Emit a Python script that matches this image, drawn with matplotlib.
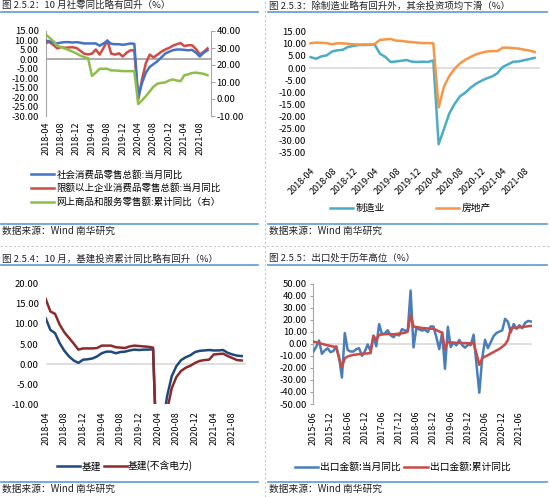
import matplotlib
matplotlib.use("Agg")
import matplotlib.pyplot as plt
from matplotlib.lines import Line2D

plt.rcParams['font.family'] = ['Noto Sans CJK SC', 'DejaVu Sans']

W, H = 550, 497

# ---- 图 2.5.2 社零 ----
p1_ticks = ["2018-04", "2018-08", "2018-12", "2019-04", "2019-08", "2019-12",
            "2020-04", "2020-08", "2020-12", "2021-04", "2021-08"]
p1_retail = [9.8, 9.6, 8.8, 8.4, 8.9, 9.1, 9.1, 8.9, 9.1, 8.8, 8.4, 8.4, 8.4, 8.4, 7.2,
             8.4, 9.8, 8.2, 8.0, 8.0, 7.7, 8.0, 8.4, 8.2, -20.0, -12.5, -7.0, -4.0, -2.5,
             -1.0, 1.0, 3.0, 4.0, 4.8, 5.2, 5.2, 5.0, 4.8, 5.0, 3.5, 1.5, 3.5, 4.8]
p1_above = [8.7, 9.1, 7.6, 5.8, 6.5, 6.1, 6.3, 6.4, 6.0, 4.5, 3.0, 2.6, 3.0, 5.2, 2.5,
            6.0, 10.0, 3.0, 2.5, 3.2, 1.5, 3.5, 4.8, 4.7, -21.5, -10.5, -2.0, 2.5, 1.0,
            2.5, 4.0, 5.2, 6.0, 7.2, 8.0, 8.6, 7.0, 7.5, 7.4, 5.5, 2.5, 4.0, 5.8]
p1_online = [38.0, 36.0, 34.0, 31.3, 30.5, 29.6, 28.8, 27.8, 26.8, 25.5, 24.6, 24.0, 13.6,
             15.5, 17.8, 17.8, 17.8, 16.8, 16.8, 16.6, 16.4, 16.4, 16.4, 16.4, -3.0, -0.8,
             1.7, 4.5, 7.3, 9.0, 9.5, 9.7, 10.9, 11.5, 10.9, 10.5, 14.0, 14.5, 15.3, 15.5,
             15.2, 14.8, 14.0]

# ---- 图 2.5.3 制造业 / 房地产 ----
p2_mfg = [4.5, 3.8, 4.8, 5.2, 6.8, 7.3, 7.5, 8.7, 9.1, 9.5, 9.5, 9.6, 9.7, 5.9, 4.6, 2.5,
          2.7, 3.0, 3.3, 2.6, 2.5, 2.6, 2.5, 3.1, -31.5, -25.2, -18.8, -14.8, -11.7, -10.2,
          -8.1, -6.5, -5.3, -4.3, -3.5, -2.2, 0.4, 1.5, 2.6, 2.7, 3.2, 3.7, 4.2]
p2_estate = [10.2, 10.5, 10.4, 10.3, 9.8, 10.2, 10.2, 10.0, 9.8, 9.7, 9.7, 9.7, 9.9, 11.6,
             11.8, 12.0, 11.3, 11.2, 10.9, 10.7, 10.5, 10.3, 10.3, 10.2, -16.3, -7.7, -3.3,
             -0.3, 1.9, 3.4, 4.6, 5.6, 6.3, 6.8, 7.0, 7.0, 8.4, 8.4, 8.2, 8.0, 7.6, 7.2, 6.6]

# ---- 图 2.5.4 基建 ----
p3_infra = [11.4, 8.5, 7.7, 5.2, 3.3, 1.9, 0.9, 0.3, 1.1, 1.2, 1.4, 1.9, 2.7, 3.1, 3.1, 2.7,
            3.0, 3.1, 3.4, 3.6, 3.5, 3.6, 3.6, 3.7, -30.0, -16.0, -8.0, -3.0, -0.5, 1.0,
            1.7, 2.2, 3.0, 3.3, 3.4, 3.5, 3.4, 3.4, 3.5, 2.8, 2.4, 2.1, 2.0]
p3_infra_ex = [16.2, 13.1, 12.5, 9.8, 7.9, 6.5, 5.1, 3.6, 3.9, 3.9, 3.9, 4.0, 4.6, 4.6, 4.6,
               4.2, 4.1, 4.0, 4.4, 4.6, 4.5, 4.4, 4.3, 4.1, -30.3, -19.7, -11.5, -6.0, -3.2,
               -1.7, -0.9, -0.4, 0.3, 0.8, 1.0, 1.1, 2.4, 2.5, 2.6, 2.0, 1.5, 1.0, 0.9]

# ---- 图 2.5.5 出口 ----
p4_ticks = ["2015-06", "2015-12", "2016-06", "2016-12", "2017-06", "2017-12", "2018-06",
            "2018-12", "2019-06", "2019-12", "2020-06", "2020-12", "2021-06"]
p4_month = [-6.4, -2.5, 2.8, -8.3, -5.5, -3.7, -6.9, -6.0, -2.0, -11.2, -28.0, 9.0,
            -5.0, -6.4, -6.4, -4.4, -3.6, -10.0, -6.4, -0.5, -6.1,
            6.5, -2.0, 16.4, 8.0, 8.7, 11.3, 7.2, 5.5, 8.1, 6.9, 12.3, 10.9,
            11.1, 44.3, -3.0, 12.9, 12.0, 11.0, 11.8, 9.8, 14.5, 14.4, 5.4, -4.4,
            9.1, -20.7, 14.2, -2.7, 1.1, -1.3, 3.3, -1.0, -3.2, -0.9, -1.1, 7.6,
            -17.0, -40.6, -12.0, 3.3, -3.6, 1.5, 6.5, 9.0, 10.2, 11.2, 20.8, 18.3,
            9.5, 16.5, 12.5, 15.5, 13.0, 17.5, 19.0, 18.6]
p4_cum = [1.9, 1.3, 0.9, 0.0, -0.6, -1.2, -1.7, -2.3, -2.8, -12.0, -19.5,
          -12.0, -10.5, -9.8, -9.2, -8.9, -8.6, -8.3, -8.1, -7.9, -7.7,
          6.8, 3.3, 7.5, 7.8, 8.0, 8.2, 8.0, 8.0, 8.2, 8.5, 8.8, 9.2,
          10.2, 24.6, 14.4, 14.0, 13.6, 13.2, 13.0, 12.8, 12.6, 12.5, 11.5, 10.2,
          9.5, -4.6, 1.7, 1.2, 1.0, 0.8, 0.8, 0.7, 0.6, 0.5, 0.4, 0.5,
          -8.0, -17.5, -12.0, -10.5, -9.5, -8.0, -6.8, -5.5, -4.2, -2.5, -0.5, 3.3,
          13.0, 13.5, 13.3, 13.8, 14.0, 14.3, 14.6, 14.9]

titles = ["图 2.5.2：10 月社零同比略有回升（%）",
          "图 2.5.3：除制造业略有回升外，其余投资项均下滑（%）",
          "图 2.5.4：10 月，基建投资累计同比略有回升（%）",
          "图 2.5.5：出口处于历年高位（%）"]
source = "数据来源：Wind 南华研究"

FS = 6.8
RULE = '#5B9BD5'

fig = plt.figure(figsize=(W / 100, H / 100), dpi=100)


def axes_px(x0, y0, x1, y1):
    return fig.add_axes([x0 / W, 1 - y1 / H, (x1 - x0) / W, (y1 - y0) / H])


def fx(x):
    return x / W


def fy(y):
    return 1 - y / H


def fmt(v):
    return f"{v:.2f}"


# frame: titles, blue rules, source, dashed separators
for (x0, x1, ytop, ybot), title in zip([(1, 258, 0, 245), (268, 547, 0, 245),
                                        (1, 258, 253, 497), (268, 547, 253, 497)], titles):
    fig.text(fx(x0 + 1), fy(ytop + 5.5), title, fontsize=FS, va='center', color='#222222')
    fig.add_artist(Line2D([fx(x0), fx(x1)], [fy(ytop + 12)] * 2, color=RULE, lw=1.2))
    fig.add_artist(Line2D([fx(x0), fx(x1)], [fy(ytop + 223.5 if ytop == 0 else ytop + 228.5)] * 2,
                          color=RULE, lw=1.2))
    fig.text(fx(x0 + 1), fy(ytop + 231 if ytop == 0 else ytop + 236), source,
             fontsize=FS + 0.2, va='center', color='#222222')
fig.add_artist(Line2D([fx(264.5)] * 2, [0, 1], color='#c8c8c8', lw=0.8, ls=(0, (2, 2))))
fig.add_artist(Line2D([0, 1], [fy(246)] * 2, color='#c8c8c8', lw=0.8, ls=(0, (2, 2))))


def style_x(ax, ticks, labels, rot, pad):
    ax.set_xticks(ticks)
    if rot == 90:
        ax.set_xticklabels(labels, rotation=90, fontsize=FS - 0.3)
    else:
        ax.set_xticklabels(labels, rotation=45, ha='right', va='top',
                           rotation_mode='anchor', fontsize=FS - 0.3)
    ax.tick_params(axis='x', length=0, pad=pad)


def style_y(ax, ticks, pad, length=0):
    ax.set_yticks(ticks)
    ax.set_yticklabels([fmt(t) for t in ticks], fontsize=FS)
    ax.tick_params(axis='y', length=length, pad=pad, color='#a0a0a0')


# ---- panel 1 ----
x1 = list(range(len(p1_retail)))
ax1 = axes_px(45.7, 31, 211, 116)
ax1.set_xlim(0, 42.9)
ax1.set_ylim(-30, 15)
for s in ['top', 'right', 'bottom']:
    ax1.spines[s].set_visible(False)
ax1.spines['left'].set_color('#a6a6a6')
ax1.axhline(0, color='#a6a6a6', lw=1.3, zorder=1)
l_a, = ax1.plot(x1, p1_above, color='#D04A46', lw=1.8, zorder=3)
l_r, = ax1.plot(x1, p1_retail, color='#4472C4', lw=1.8, zorder=4)
style_x(ax1, range(0, 41, 4), p1_ticks, 90, 4)
style_y(ax1, range(-30, 16, 5), 5)
ax1b = ax1.twinx()
ax1b.set_ylim(-10, 40)
for s in ['top', 'left', 'bottom']:
    ax1b.spines[s].set_visible(False)
ax1b.spines['right'].set_color('#a6a6a6')
l_o, = ax1b.plot(x1, p1_online, color='#8DBF48', lw=1.8)
ax1b.set_yticks(range(-10, 41, 10))
ax1b.set_yticklabels([fmt(t) for t in range(-10, 41, 10)], fontsize=FS)
ax1b.tick_params(axis='y', length=3, pad=1, color='#a6a6a6')
fig.legend([l_r, l_a, l_o],
           ["社会消费品零售总额:当月同比", "限额以上企业消费品零售总额:当月同比",
            "网上商品和服务零售额:累计同比（右）"],
           loc='upper left', bbox_to_anchor=(fx(31), fy(170)), frameon=False, fontsize=FS,
           handlelength=2.45, handletextpad=0.25, labelspacing=0.42, borderpad=0,
           borderaxespad=0)

# ---- panel 2 ----
x2 = list(range(len(p2_mfg)))
ax2 = axes_px(309, 31.7, 540, 152.7)
ax2.set_xlim(-0.3, 43.0)
ax2.set_ylim(-35, 15)
for s in ax2.spines.values():
    s.set_visible(False)
ax2.axhline(0, color='#d9d9d9', lw=1.2, zorder=1)
m2, = ax2.plot(x2, p2_mfg, color='#4BACC6', lw=1.8, zorder=3)
e2, = ax2.plot(x2, p2_estate, color='#F79646', lw=1.8, zorder=4)
style_x(ax2, range(0, 41, 4), p1_ticks, 45, 10)
style_y(ax2, range(-35, 16, 5), 2)
fig.legend([m2, e2], ["制造业", "房地产"], loc='center left',
           bbox_to_anchor=(fx(330), fy(208)), frameon=False, fontsize=FS + 0.2, ncol=2,
           handlelength=2.35, handletextpad=0.25, columnspacing=5.3, borderpad=0,
           borderaxespad=0)

# ---- panel 3 ----
x3 = list(range(len(p3_infra)))
ax3 = axes_px(45.7, 283.7, 245.5, 404.3)
ax3.set_xlim(0, 42.8)
ax3.set_ylim(-10, 20)
for s in ax3.spines.values():
    s.set_visible(False)
ax3.axhline(0, color='#d9d9d9', lw=1.2, zorder=1)
b3, = ax3.plot(x3, p3_infra, color='#1F497D', lw=1.8, zorder=3)
r3, = ax3.plot(x3, p3_infra_ex, color='#8B2A2A', lw=1.8, zorder=4)
style_x(ax3, range(0, 41, 4), p1_ticks, 90, 5)
style_y(ax3, range(-10, 21, 5), 5)
fig.legend([b3, r3], ["基建", "基建(不含电力)"], loc='center left',
           bbox_to_anchor=(fx(57), fy(466)), frameon=False, fontsize=FS + 0.2, ncol=2,
           handlelength=2.35, handletextpad=0.15, columnspacing=0.3, borderpad=0,
           borderaxespad=0)

# ---- panel 4 ----
x4 = list(range(len(p4_month)))
ax4 = axes_px(313.3, 283.7, 532, 404)
ax4.set_xlim(0, 76.4)
ax4.set_ylim(-50, 50)
for s in ['top', 'right', 'bottom']:
    ax4.spines[s].set_visible(False)
ax4.spines['left'].set_color('#a6a6a6')
ax4.axhline(0, color='#d9d9d9', lw=1.2, zorder=1)
b4, = ax4.plot(x4, p4_month, color='#4A7EBB', lw=1.8, zorder=3)
r4, = ax4.plot(x4, p4_cum, color='#C84B47', lw=1.8, zorder=4)
style_x(ax4, range(0, 73, 6), p4_ticks, 90, 5)
style_y(ax4, range(-50, 51, 10), 2, length=2.5)
fig.legend([b4, r4], ["出口金额:当月同比", "出口金额:累计同比"], loc='center left',
           bbox_to_anchor=(fx(295), fy(467)), frameon=False, fontsize=FS + 0.2, ncol=2,
           handlelength=2.4, handletextpad=0.2, columnspacing=0.35, borderpad=0,
           borderaxespad=0)

fig.savefig("out.png", dpi=100)
